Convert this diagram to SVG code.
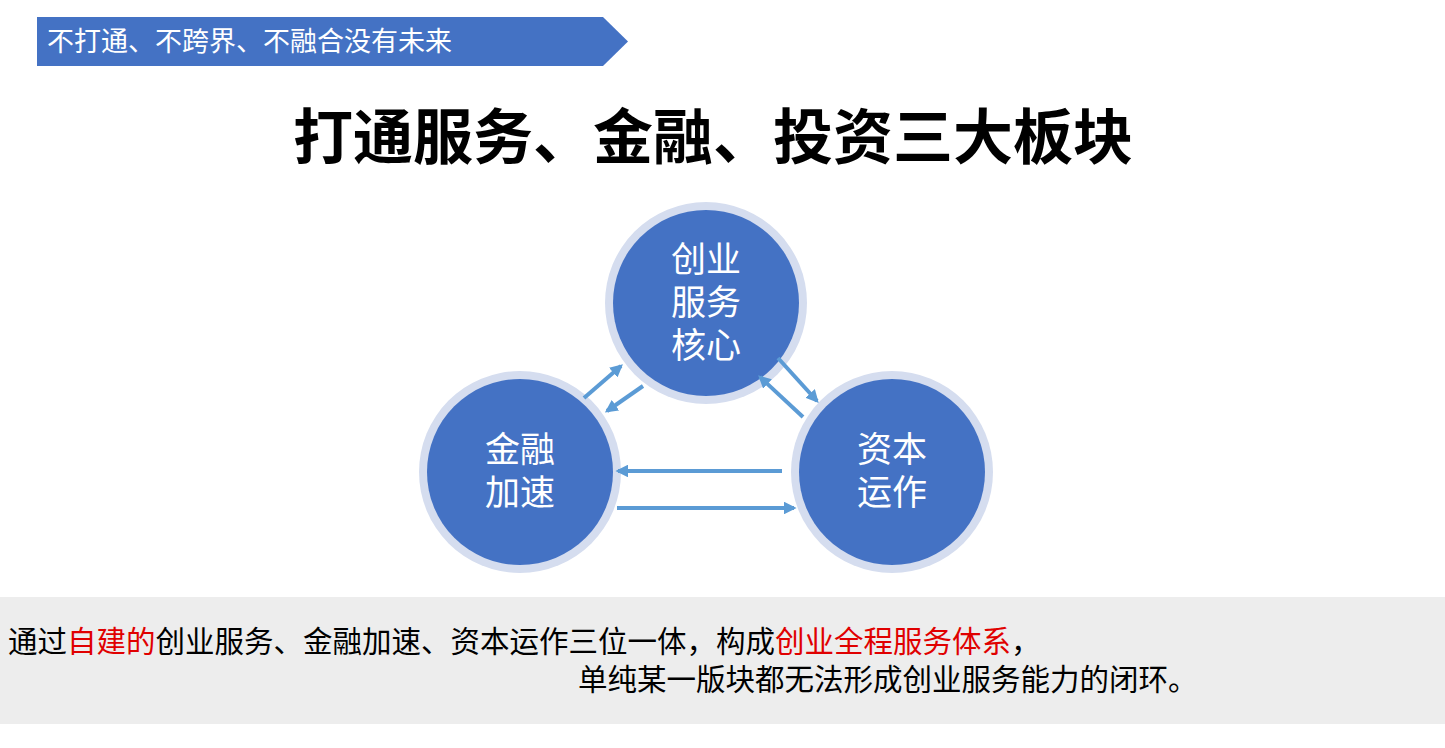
<svg xmlns="http://www.w3.org/2000/svg" width="1445" height="748" viewBox="0 0 1445 748">
<defs>
<style>
.cjk{font-family:"Noto Sans CJK SC","Noto Sans CJK TC",sans-serif;}
.ring{fill:#D5DDEF;}
.core{fill:#4472C4;}
.ntext{fill:#fff;font-size:35px;text-anchor:middle;}
.arr{stroke:#5B9BD5;stroke-width:4;fill:none;marker-end:url(#ah);}
.body{font-size:29.5px;fill:#000;}
.red{fill:#E00000;}
</style>
<marker id="ah" viewBox="0 0 10 10" refX="8" refY="5" markerWidth="3.2" markerHeight="3.2" orient="auto" markerUnits="strokeWidth">
<path d="M0,0 L10,5 L0,10 Z" fill="#5B9BD5"/>
</marker>
</defs>
<rect width="1445" height="748" fill="#fff"/>
<g id="banner">
<polygon points="37,17 603,17 628,41.5 603,66 37,66" fill="#4472C4"/>
<text class="cjk" x="47" y="51" font-size="27" fill="#fff">不打通、不跨界、不融合没有未来</text>
</g>
<g id="title">
<text class="cjk" x="713" y="159" font-size="60" font-weight="bold" text-anchor="middle" fill="#000">打通服务、金融、投资三大板块</text>
</g>
<g id="node-service">
<circle class="ring" cx="706" cy="303" r="101"/>
<circle class="core" cx="706" cy="303" r="93"/>
<text class="cjk ntext" x="706" y="272">创业<tspan x="706" dy="43">服务</tspan><tspan x="706" dy="43">核心</tspan></text>
</g>
<g id="node-finance">
<circle class="ring" cx="520" cy="472" r="101"/>
<circle class="core" cx="520" cy="472" r="93"/>
<text class="cjk ntext" x="520" y="462">金融<tspan x="520" dy="43">加速</tspan></text>
</g>
<g id="node-capital">
<circle class="ring" cx="892" cy="472" r="101"/>
<circle class="core" cx="892" cy="472" r="93"/>
<text class="cjk ntext" x="892" y="462">资本<tspan x="892" dy="43">运作</tspan></text>
</g>
<g id="connectors">
<line class="arr" x1="584" y1="398" x2="621" y2="366"/>
<line class="arr" x1="643" y1="386" x2="607" y2="411"/>
<line class="arr" x1="778" y1="358" x2="817" y2="401"/>
<line class="arr" x1="803" y1="417" x2="760" y2="377"/>
<line class="arr" x1="782" y1="471" x2="618" y2="471"/>
<line class="arr" x1="617" y1="508" x2="794" y2="508"/>
</g>
<g id="summary">
<rect x="0" y="597" width="1445" height="127" fill="#EDEDED"/>
<text class="cjk body" x="8" y="652">通过<tspan class="red">自建的</tspan>创业服务、金融加速、资本运作三位一体，构成<tspan class="red">创业全程服务体系</tspan>，</text>
<text class="cjk body" x="578" y="690">单纯某一版块都无法形成创业服务能力的闭环。</text>
</g>
</svg>
